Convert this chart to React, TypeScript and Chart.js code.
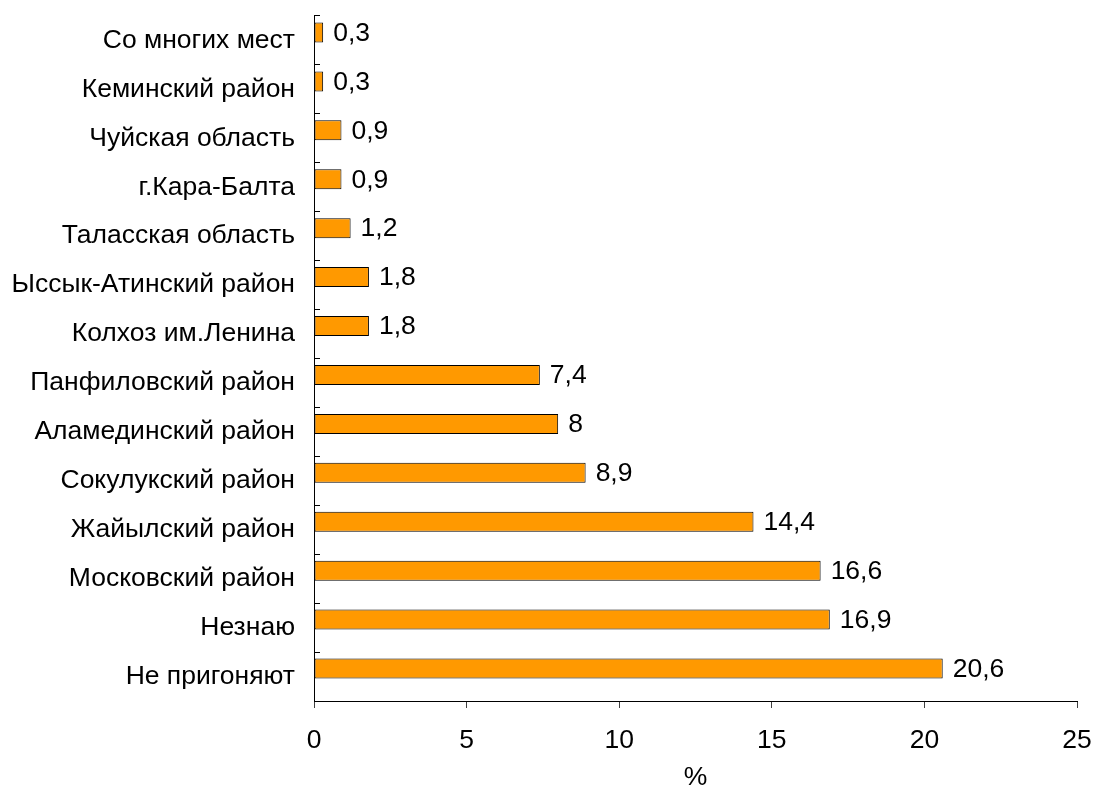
import React, { useEffect, useRef } from "react";
import { Chart, registerables } from "chart.js";

Chart.register(...registerables);

const categories = [
  "Со многих мест",
  "Кеминский район",
  "Чуйская область",
  "г.Кара-Балта",
  "Таласская область",
  "Ыссык-Атинский район",
  "Колхоз им.Ленина",
  "Панфиловский район",
  "Аламединский район",
  "Сокулукский район",
  "Жайылский район",
  "Московский район",
  "Незнаю",
  "Не пригоняют",
];
const values = [0.3, 0.3, 0.9, 0.9, 1.2, 1.8, 1.8, 7.4, 8, 8.9, 14.4, 16.6, 16.9, 20.6];
const xTicks = [0, 5, 10, 15, 20, 25];
const axisTitle = "%";

const FONT = "'Liberation Sans', Arial, sans-serif";
const FS = 26.5;

const valueLabels = {
  id: "valueLabels",
  afterDatasetsDraw(chart: any) {
    const ctx = chart.ctx;
    const meta = chart.getDatasetMeta(0);
    ctx.save();
    ctx.font = `${FS}px ${FONT}`;
    ctx.fillStyle = "#000";
    ctx.textAlign = "left";
    ctx.textBaseline = "middle";
    meta.data.forEach((bar: any, i: number) => {
      const txt = String(values[i]).replace(".", ",");
      ctx.fillText(txt, bar.x + 10, bar.y + 1);
    });
    ctx.restore();
  },
};

export default function App() {
  const ref = useRef<HTMLCanvasElement | null>(null);
  useEffect(() => {
    if (!ref.current) return;
    const chart = new Chart(ref.current, {
      type: "bar",
      data: {
        labels: categories,
        datasets: [
          {
            data: values,
            backgroundColor: "#FF9900",
            borderColor: "#000000",
            borderWidth: 1,
            borderSkipped: false,
            barPercentage: 1.25,
            categoryPercentage: 0.654,
          },
          {
            data: [],
            backgroundColor: "transparent",
            barPercentage: 1.25,
            categoryPercentage: 0.654,
          },
        ],
      },
      options: {
        indexAxis: "y",
        animation: false,
        responsive: true,
        maintainAspectRatio: false,
        layout: { padding: { top: 16, right: 16, left: 0, bottom: 0 } },
        plugins: {
          legend: { display: false },
          tooltip: { enabled: false },
        },
        scales: {
          x: {
            type: "linear",
            min: 0,
            max: 25,
            afterBuildTicks: (scale: any) => {
              scale.ticks = xTicks.map((v) => ({ value: v }));
            },
            afterFit: (scale: any) => {
              scale.height = 86;
              scale.paddingLeft = 0;
              scale.paddingRight = 0;
            },
            grid: {
              drawOnChartArea: false,
              drawTicks: true,
              tickLength: 7,
              tickColor: "#404040",
              tickWidth: 1,
            },
            border: { display: true, color: "#000", width: 1 },
            ticks: {
              color: "#000",
              font: { family: FONT, size: FS },
              padding: 17,
              maxRotation: 0,
            },
            title: {
              display: true,
              text: axisTitle,
              color: "#000",
              font: { family: FONT, size: FS },
              padding: { top: 0, bottom: -7 },
            },
          },
          y: {
            type: "category",
            afterFit: (scale: any) => {
              scale.width = 314;
              scale.paddingTop = 0;
              scale.paddingBottom = 0;
            },
            grid: {
              drawOnChartArea: false,
              drawTicks: true,
              offset: true,
              tickLength: -6,
              tickColor: "#000",
              tickWidth: 1,
            },
            border: { display: true, color: "#000", width: 1 },
            ticks: {
              color: "#000",
              font: { family: FONT, size: FS },
              padding: 25,
              autoSkip: false,
            },
          },
        },
      },
      plugins: [valueLabels],
    });
    return () => chart.destroy();
  }, []);
  return (
    <div style={{ position: "absolute", left: 0, top: 0, width: 1093, height: 787, background: "#fff" }}>
      <canvas ref={ref} />
    </div>
  );
}
